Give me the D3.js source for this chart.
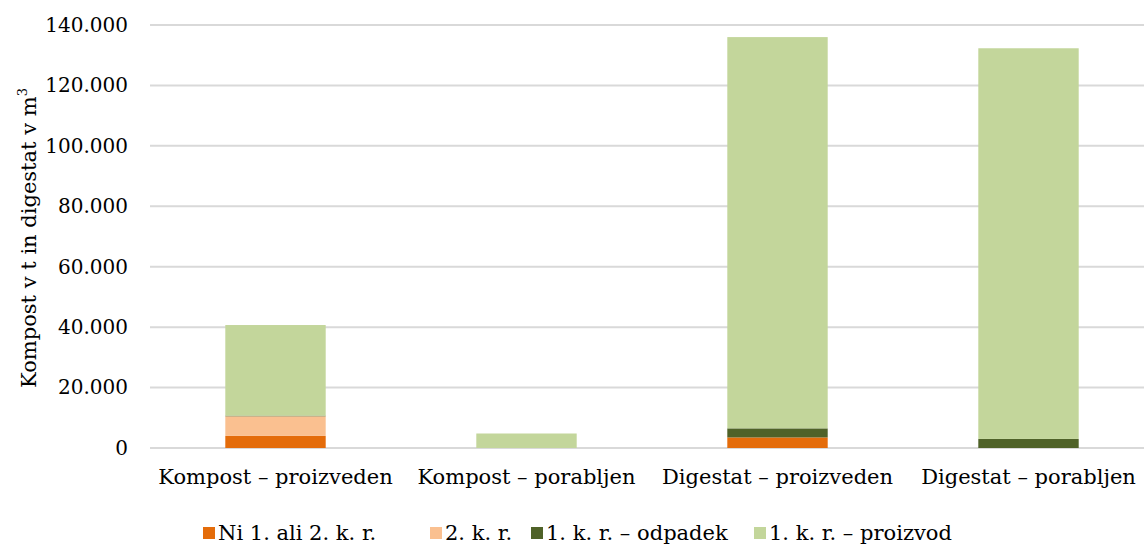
<!DOCTYPE html>
<html>
<head>
<meta charset="utf-8">
<script src="https://cdn.jsdelivr.net/npm/d3@7"></script>
<style>
  html, body { margin: 0; padding: 0; background: #fff; }
  svg { display: block; }
  svg text { font-family: "DejaVu Serif", "Liberation Serif", serif; fill: #000; }
</style>
</head>
<body>
<svg id="chart" width="1144" height="547"></svg>
<script>
// Categories along the x axis
const categories = ["Kompost – proizveden", "Kompost – porabljen", "Digestat – proizveden", "Digestat – porabljen"];

// Stacked series (bottom to top)
const seriesNames = ["Ni 1. ali 2. k. r.", "2. k. r.", "1. k. r. – odpadek", "1. k. r. – proizvod"];
const niValues       = [4000, 0, 3500, 0];
const drugiValues    = [6500, 0, 0, 0];
const odpadekValues  = [200, 0, 3000, 3000];
const proizvodValues = [30000, 4800, 129500, 129300];

const yTicks = [0, 20000, 40000, 60000, 80000, 100000, 120000, 140000];
const colors = ["#E46C0A", "#FAC090", "#4F6228", "#C3D69B"];

const rows = categories.map((c, i) => ({
  cat: c,
  s0: niValues[i], s1: drugiValues[i], s2: odpadekValues[i], s3: proizvodValues[i]
}));
const keys = ["s0", "s1", "s2", "s3"];
const stack = d3.stack().keys(keys)(rows);

const svg = d3.select("#chart");
const plotLeft = 150, plotRight = 1144;
const fontSize = 21;

const x = d3.scaleBand().domain(categories).range([150, 1154]).paddingInner(0.6).paddingOuter(0.3);
const y = d3.scaleLinear().domain([0, 140000]).range([448, 25]);

const fmt = v => v === 0 ? "0" : d3.format(",")(v).replace(/,/g, ".");

// Horizontal gridlines
svg.append("g").selectAll("line").data(yTicks).join("line")
  .attr("x1", plotLeft).attr("x2", plotRight)
  .attr("y1", d => y(d)).attr("y2", d => y(d))
  .attr("stroke", "#d9d9d9").attr("stroke-width", 2);

// Y axis tick labels
const yAxis = d3.axisLeft(y).tickValues(yTicks).tickFormat(fmt).tickSize(0).tickPadding(0);
const gy = svg.append("g").attr("transform", "translate(128,0)").call(yAxis);
gy.select(".domain").remove();
gy.selectAll("text").style("font-size", "20px");

// Bars
svg.append("g").selectAll("g").data(stack).join("g")
  .attr("fill", (d, i) => colors[i])
  .selectAll("rect").data(d => d.filter(s => s[1] - s[0] > 0)).join("rect")
  .attr("x", d => x(d.data.cat))
  .attr("width", x.bandwidth())
  .attr("y", d => y(d[1]))
  .attr("height", d => y(d[0]) - y(d[1]));

// X axis labels
const xAxis = d3.axisBottom(x).tickSize(0).tickPadding(0);
const gx = svg.append("g").attr("transform", "translate(0,448)").call(xAxis);
gx.select(".domain").remove();
gx.selectAll("text").attr("y", 36).attr("dy", 0).style("font-size", fontSize + "px");

// Y axis title
const title = svg.append("text")
  .attr("transform", "translate(36,238) rotate(-90)")
  .attr("text-anchor", "middle")
  .style("font-size", fontSize + "px");
title.append("tspan").text("Kompost v t in digestat v m");
title.append("tspan").style("font-size", "13px").attr("dy", -9).text("3");

// Legend
const legendX = [203, 430, 531, 754];
const legend = svg.append("g").selectAll("g").data(seriesNames).join("g")
  .attr("transform", (d, i) => `translate(${legendX[i]},527)`);
legend.append("rect").attr("width", 12).attr("height", 12).attr("fill", (d, i) => colors[i]);
legend.append("text").attr("x", 15).attr("y", 13).style("font-size", fontSize + "px").text(d => d);
</script>
</body>
</html>
